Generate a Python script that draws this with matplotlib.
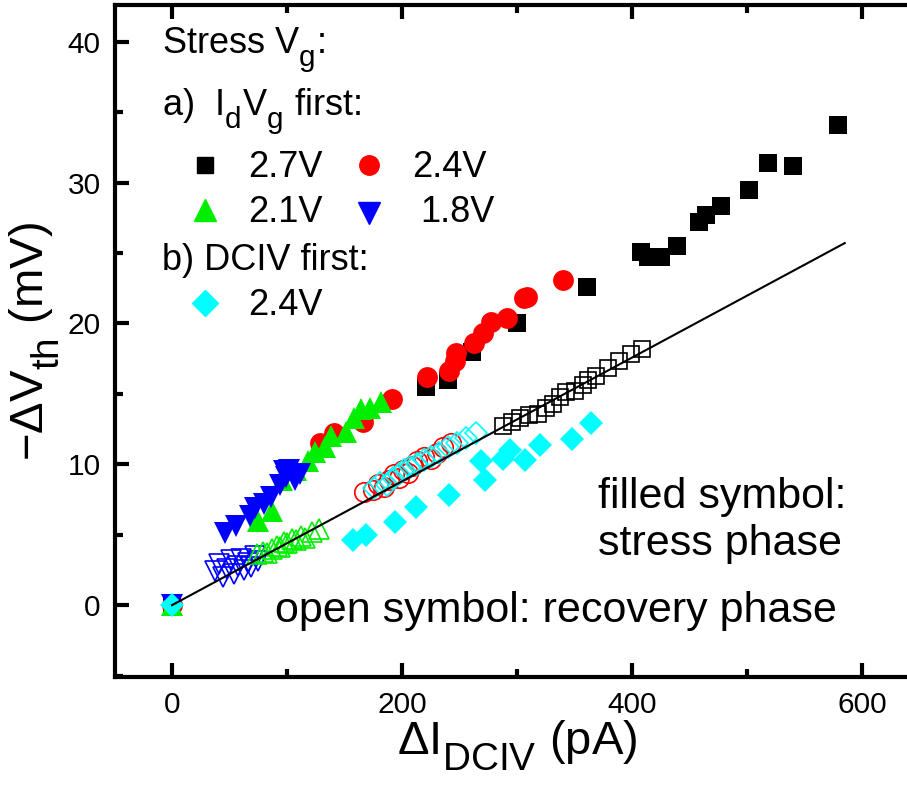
import numpy as np
import matplotlib
matplotlib.use("Agg")
import matplotlib.pyplot as plt
from matplotlib.ticker import MultipleLocator
import matplotlib._mathtext as _mt

plt.rcParams['font.family'] = ['Liberation Sans', 'DejaVu Sans']
plt.rcParams['mathtext.fontset'] = 'custom'
plt.rcParams['mathtext.rm'] = 'Liberation Sans'
plt.rcParams['mathtext.it'] = 'Liberation Sans'
# Origin-like subscripts: bigger and dropped lower
_mt.SHRINK_FACTOR = 0.82
if hasattr(_mt, 'FontConstantsBase'):
    _mt.FontConstantsBase.sub1 = 0.65
    _mt.FontConstantsBase.subdrop = 0.6

# stress phase (filled symbols), IdVg first
sq_x = [0, 221, 240, 261, 300, 361, 408, 414, 425, 439, 458, 464, 477, 502, 518, 540, 579]
sq_y = [0, 15.5, 16.0, 18.0, 20.0, 22.6, 25.1, 24.7, 24.7, 25.5, 27.2, 27.7, 28.3, 29.5, 31.4, 31.2, 34.1]

ci_x = [0, 129, 141, 166, 191, 222, 241, 246, 247, 263, 270, 277, 291, 306, 309, 340]
ci_y = [0, 11.5, 12.2, 13.0, 14.6, 16.2, 16.6, 17.3, 17.9, 18.6, 19.3, 20.1, 20.4, 21.8, 21.9, 23.1]

tu_x = [0, 75, 87, 96, 108, 118, 124, 133, 138, 151, 158, 164, 172, 182]
tu_y = [0, 6.0, 6.7, 8.9, 9.6, 10.2, 10.9, 11.2, 12.0, 12.3, 13.3, 13.9, 14.0, 14.4]

td_x = [0, 46, 56, 68, 72, 80, 86, 94, 97, 99, 102, 107, 111]
td_y = [0, 5.1, 5.6, 6.3, 6.9, 7.2, 7.7, 8.5, 9.5, 9.1, 9.6, 8.9, 9.3]

# DCIV first, stress
di_x = [0, 157, 169, 194, 212, 241, 269, 272, 288, 294, 307, 320, 348, 364]
di_y = [0, 4.6, 5.0, 5.9, 7.0, 7.8, 10.2, 8.9, 10.4, 11.0, 10.3, 11.4, 11.8, 12.9]

# recovery phase (open symbols)
osq_x = [288, 296, 303, 310, 318, 325, 331, 337, 343, 350, 357, 362, 369, 379, 389, 399, 409]
osq_y = [12.7, 13.0, 13.3, 13.5, 13.6, 14.0, 14.3, 14.8, 15.1, 15.2, 15.6, 16.0, 16.3, 16.8, 17.3, 17.8, 18.2]

oci_x = [167, 175, 179, 184, 189, 193, 197, 201, 205, 209, 213, 219, 225, 230, 236, 243]
oci_y = [8.0, 8.2, 8.6, 8.4, 8.9, 9.3, 9.0, 9.6, 9.4, 9.9, 10.2, 10.5, 10.4, 10.8, 11.2, 11.5]

otu_x = [74, 79, 83, 87, 91, 94, 97, 100, 104, 108, 112, 116, 122, 128]
otu_y = [3.6, 3.8, 3.7, 4.0, 4.2, 4.1, 4.5, 4.4, 4.7, 4.6, 4.9, 4.8, 5.2, 5.4]

otd_x = [37, 41, 44, 48, 51, 54, 57, 60, 63, 66, 69, 72, 75]
otd_y = [2.4, 2.9, 2.0, 2.6, 3.2, 2.2, 2.8, 3.3, 2.5, 3.0, 2.7, 3.5, 3.1]

odi_x = [176, 181, 187, 192, 197, 202, 207, 213, 219, 225, 232, 240, 248, 256, 264]
odi_y = [8.3, 8.7, 8.5, 9.0, 9.3, 9.6, 9.8, 10.0, 10.3, 10.5, 10.8, 11.2, 11.5, 11.9, 12.2]

fit_x = [0, 585]
fit_y = [0, 25.7]

fig = plt.figure(figsize=(9.07, 7.91), dpi=100)
ax = fig.add_axes([114.5/907, 114/791, 805/907, 672/791])

ax.plot(fit_x, fit_y, '-', color='black', lw=1.5, zorder=5)

ax.plot(otd_x, otd_y, 'v', mfc='none', mec='blue', ms=15, mew=1.2)
ax.plot(otu_x, otu_y, '^', mfc='none', mec='#00ee00', ms=15, mew=1.2)
ax.plot(oci_x, oci_y, 'o', mfc='none', mec='red', ms=14, mew=1.2)
ax.plot(odi_x, odi_y, 'D', mfc='none', mec='cyan', ms=11, mew=1.2)
ax.plot(osq_x, osq_y, 's', mfc='none', mec='black', ms=12, mew=1.2)

ax.plot(sq_x, sq_y, 's', color='black', ms=13, mew=0)
ax.plot(ci_x, ci_y, 'o', color='red', ms=15, mew=0)
ax.plot(tu_x, tu_y, '^', color='#00ee00', ms=16, mew=0)
ax.plot(td_x, td_y, 'v', color='blue', ms=16, mew=0)
ax.plot(di_x, di_y, 'D', color='cyan', ms=12, mew=0)

ax.set_xlim(-50, 650)
ax.set_ylim(-5.1, 42.6)
ax.xaxis.set_major_locator(MultipleLocator(200))
ax.xaxis.set_minor_locator(MultipleLocator(100))
ax.yaxis.set_major_locator(MultipleLocator(10))
ax.yaxis.set_minor_locator(MultipleLocator(5))
ax.tick_params(which='both', direction='in', top=True, right=False, width=3, labelsize=21.5, pad=10)
ax.tick_params(which='major', length=10)
ax.tick_params(which='minor', length=6)
for s in ax.spines.values():
    s.set_linewidth(3)

ax.set_xlabel(r'$\Delta$I$_{\rm DCIV}$ (pA)', fontsize=34, labelpad=0)
ax.set_ylabel(r'$-\Delta$V$_{\rm th}$ (mV)', fontsize=34, labelpad=4)

# legend block
T = ax.transAxes
def fx(px): return (px - 114.5) / 805
def fy(py): return (677 - py) / 672
ax.text(fx(162), fy(53), r'Stress V$_{\rm g}$:', transform=T, fontsize=26, va='baseline')
ax.text(fx(162), fy(115), r'a)  I$_{\rm d}$V$_{\rm g}$ first:', transform=T, fontsize=26, va='baseline')
ax.plot([fx(205)], [fy(165)], 's', color='black', ms=12, transform=T)
ax.text(fx(248), fy(177), '2.7V', transform=T, fontsize=26, va='baseline')
ax.plot([fx(369)], [fy(165)], 'o', color='red', ms=14, transform=T)
ax.text(fx(412), fy(177), '2.4V', transform=T, fontsize=26, va='baseline')
ax.plot([fx(205)], [fy(210)], '^', color='#00ee00', ms=16, transform=T)
ax.text(fx(248), fy(222), '2.1V', transform=T, fontsize=26, va='baseline')
ax.plot([fx(369)], [fy(213)], 'v', color='blue', ms=16, transform=T)
ax.text(fx(420), fy(222), '1.8V', transform=T, fontsize=26, va='baseline')
ax.text(fx(162), fy(270), 'b) DCIV first:', transform=T, fontsize=26, va='baseline')
ax.plot([fx(205)], [fy(303)], 'D', color='cyan', ms=13, transform=T)
ax.text(fx(248), fy(315), '2.4V', transform=T, fontsize=26, va='baseline')

ax.text(fx(598), fy(508), 'filled symbol:', transform=T, fontsize=31, va='baseline')
ax.text(fx(598), fy(555), 'stress phase', transform=T, fontsize=31, va='baseline')
ax.text(fx(275), fy(622), 'open symbol: recovery phase', transform=T, fontsize=31, va='baseline')

fig.savefig('out.png', dpi=100)
